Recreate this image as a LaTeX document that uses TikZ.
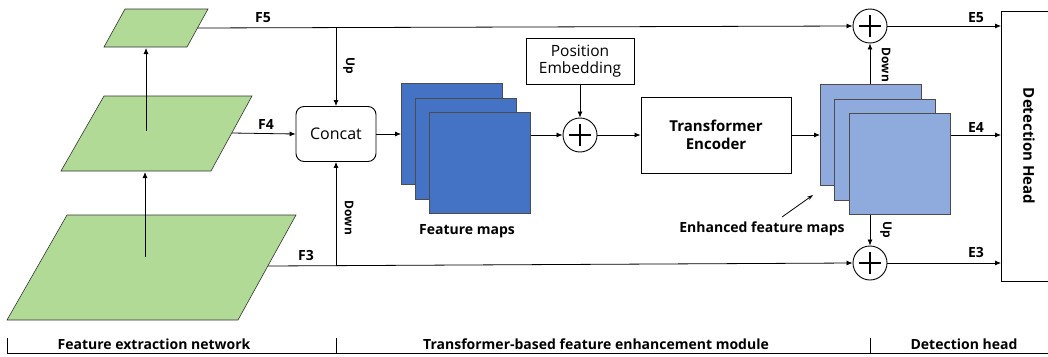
\documentclass[tikz,border=0pt]{standalone}
\usepackage{fontspec}
\setmainfont{Open Sans}
\usetikzlibrary{arrows.meta}
\definecolor{pgreen}{HTML}{B0DA96}
\definecolor{dblue}{HTML}{4472C4}
\definecolor{lblue}{HTML}{8FAADC}
\begin{document}
\begin{tikzpicture}[x=1pt,y=-1pt,
  lbl/.style={font=\bfseries\fontsize{14}{16}\selectfont, inner sep=0pt},
  rot/.style={font=\bfseries\fontsize{12}{14}\selectfont, rotate=-90, inner sep=0pt},
  arr/.style={-{Latex[length=6pt,width=5pt]}, line width=0.8pt},
  ln/.style={line width=0.8pt},
  para/.style={draw=black!80, fill=pgreen, line width=0.6pt},
  boxst/.style={draw, line width=0.9pt, fill=white, align=center, font=\fontsize{16}{18}\selectfont},
  sq/.style={draw=black!70, line width=0.6pt, minimum width=101pt, minimum height=101pt, anchor=north west, inner sep=0pt},
  plusst/.style={circle, draw, line width=0.9pt, minimum size=34pt, inner sep=0pt, fill=white,
    path picture={\draw[line width=1.4pt] ([xshift=-11pt]path picture bounding box.center) -- ([xshift=11pt]path picture bounding box.center);
                  \draw[line width=1.4pt] ([yshift=-11pt]path picture bounding box.center) -- ([yshift=11pt]path picture bounding box.center);}},
  seclbl/.style={font=\bfseries\fontsize{14}{16}\selectfont, inner sep=0pt}
]
\useasboundingbox (0,0) rectangle (1048,356);
% feature pyramid
\draw[para] (67,215) -- (296,215) -- (238,320) -- (7,320) -- cycle;
\draw[para] (104,96) -- (252,96) -- (211,171) -- (61,171) -- cycle;
\draw[para] (125,9) -- (208,9) -- (187,47) -- (104,47) -- cycle;
\coordinate (p3a) at (145,257); \coordinate (p3b) at (145,172);
\coordinate (p4a) at (146,131); \coordinate (p4b) at (146,48);
\draw[arr] (p3a) -- (p3b);
\draw[arr] (p4a) -- (p4b);
\coordinate (f5s) at (197.5,28);
\coordinate (f4s) at (232,133);
\coordinate (f3s) at (268,266);
% concat
\node[boxst, rounded corners=8pt, minimum width=80pt, minimum height=55pt] (concat) at (336,134) {Concat};
\coordinate (up) at (336,28);
\coordinate (dn) at (336,266);
% feature maps
\node[sq, fill=dblue] (fm1) at (401,83) {};
\node[sq, fill=dblue] (fm2) at (415,98) {};
\node[sq, fill=dblue] (fm3) at (429,112) {};
\node[font=\bfseries\fontsize{14}{16}\selectfont] (fml) at (467,231) {Feature maps};
% plus and position
\node[plusst] (pl) at (580,135) {};
\node[boxst, minimum width=108pt, minimum height=46pt, inner sep=1pt, font=\fontsize{15.5}{17}\selectfont] (pe) at (580,61) {Position\\Embedding};
\node[boxst, minimum width=150pt, minimum height=76pt, font=\bfseries\fontsize{15}{18}\selectfont] (te) at (716,135) {Transformer\\Encoder};
% enhanced maps
\node[sq, fill=lblue] (em1) at (820,84) {};
\node[sq, fill=lblue] (em2) at (834,99) {};
\node[sq, fill=lblue] (em3) at (849,113) {};
\node[font=\bfseries\fontsize{14}{16}\selectfont] (eml) at (762,229) {Enhanced feature maps};
\coordinate (ea) at (782,217); \coordinate (eb) at (813,195);
\draw[ln, -{Stealth[length=6pt,width=4pt]}] (ea) -- (eb);
% pluses
\node[plusst] (pt) at (870,26) {};
\node[plusst] (pb) at (870,263) {};
% detection head
\node[draw, line width=0.9pt, minimum width=60pt, minimum height=270pt, anchor=north west] (dh) at (1001,11) {};
\node[font=\bfseries\fontsize{15}{18}\selectfont, rotate=-90] (dht) at (1029,146) {Detection Head};
% connectors
\draw[arr] (f5s) -- (pt.west);
\draw[arr] (up) -- (concat.north);
\draw[arr] (dn) -- (concat.south);
\draw[arr] (f3s) -- (pb.west);
\draw[arr] (f4s) -- (concat.west);
\draw[arr] (concat.east) -- (fm1.west |- concat.east);
\draw[arr] (fm3.east |- pl.west) -- (pl.west);
\draw[arr] (pe.south) -- (pl.north);
\draw[arr] (pl.east) -- (te.west);
\draw[arr] (te.east) -- (em1.west |- te.east);
\draw[arr] (em1.north -| pt.south) -- (pt.south);
\draw[arr] (em3.south -| pb.north) -- (pb.north);
\draw[arr] (pt.east) -- (dh.west |- pt.east);
\draw[arr] (em3.east |- te.east) -- (dh.west |- te.east);
\draw[arr] (pb.east) -- (dh.west |- pb.east);
% labels
\node[lbl] at (263,18) {F5};
\node[lbl] at (266,125) {F4};
\node[lbl] at (306,255) {F3};
\node[lbl] at (976,18) {E5};
\node[lbl] at (976,128) {E4};
\node[lbl] at (976,252) {E3};
\node[rot] at (349,66) {Up};
\node[rot] at (349,218) {Down};
\node[rot] at (886,65) {Down};
\node[rot] at (886,230) {Up};
% bottom bar
\coordinate (b0) at (7,353); \coordinate (b1) at (1048,353);
\draw[line width=1pt] (b0) -- (b1);
\draw[line width=0.8pt] (7,338) -- (7,353);
\draw[line width=0.8pt] (336,338) -- (336,353);
\draw[line width=0.8pt] (870,338) -- (870,353);
\node[seclbl] at (154,344) {Feature extraction network};
\node[seclbl] at (596,344) {Transformer-based feature enhancement module};
\node[seclbl] at (964,344) {Detection head};
\end{tikzpicture}
\end{document}
